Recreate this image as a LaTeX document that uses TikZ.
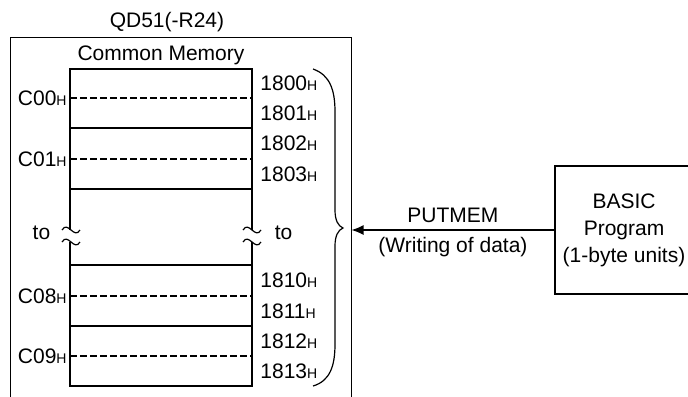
\documentclass[tikz,border=0pt]{standalone}
\usepackage{fontspec}
\setmainfont{Liberation Sans}
\usetikzlibrary{arrows.meta, positioning}
\newcommand{\hx}[1]{#1{\fontsize{7}{8}\selectfont H}}

\begin{document}
\begin{tikzpicture}[x=0.5pt, y=-0.5pt, font=\fontsize{10.5}{12}\selectfont,
    memline/.style={line width=0.75pt},
    memdash/.style={line width=0.7pt, dash pattern=on 3.5pt off 1.5pt},
    addr/.style={anchor=west, inner sep=0pt},
    hexlbl/.style={anchor=east, inner sep=0pt}]
\useasboundingbox (0,0) rectangle (688,396);
\clip (0,0) rectangle (688,396);
% module box
\node[draw, line width=0.5pt, minimum width=170.5pt, minimum height=186.5pt, inner sep=0pt] (qd) at (180.5,223.5) {};
\node (title) at (167,22) {QD51(-R24)};
\node (cmem) at (161,55) {Common Memory};
% memory area
\draw[memline] (70,230) -- (70,69) -- (252,69) -- (252,230);
\draw[memline] (70,242) -- (70,386) -- (252,386) -- (252,242);
\foreach \y in {128,189,265,326}
  \draw[memline] (70,\y) -- (252,\y);
\foreach \y in {98,159,296,356}
  \draw[memdash] (70,\y) -- (252,\y);
\foreach \x in {71,252}
  \foreach \y in {230,242}
    \draw[line width=0.6pt] (\x-9,\y) .. controls (\x-3,\y-10) and (\x+3,\y+10) .. (\x+9,\y);
% buffer addresses
\node[hexlbl] (c00) at (67,98) {\hx{C00}};
\node[hexlbl] (c01) at (67,159) {\hx{C01}};
\node[hexlbl] (c08) at (67,296) {\hx{C08}};
\node[hexlbl] (c09) at (67,356) {\hx{C09}};
\foreach \a/\y in {1800/83.5, 1801/113, 1802/143.5, 1803/174,
                   1810/280.5, 1811/311, 1812/341, 1813/371}
  \node[addr] (a\a) at (260,\y) {\hx{\a}};
\node (tol) at (41.5,233) {to};
\node (tor) at (283.5,233) {to};
% brace
\draw[line width=0.6pt] (313,69) .. controls (330,75) and (335,90) .. (335,112)
  -- (335,210) .. controls (335,220) and (338,226) .. (343,228)
  .. controls (338,230) and (335,236) .. (335,246)
  -- (335,344) .. controls (335,366) and (330,381) .. (313,386);
% program box
\node[draw, line width=0.6pt, minimum width=69pt, minimum height=64pt, align=center,
      font=\fontsize{10.5}{13.5}\selectfont] (basic) at (624,230) {BASIC\\Program\\(1-byte units)};
\draw[-{Latex[length=6pt,width=5pt]}, line width=0.65pt] (basic.west) -- (basic.west -| qd.east)
  node[midway, above] (put) {PUTMEM}
  node[midway, below] (wr) {(Writing of data)};
\end{tikzpicture}
\end{document}
